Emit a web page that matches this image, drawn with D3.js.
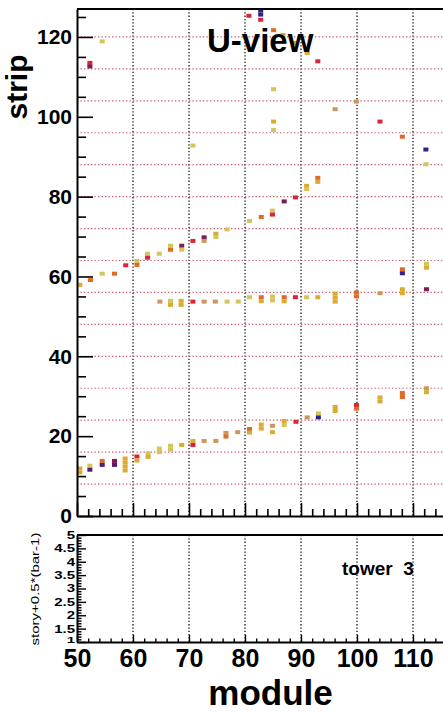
<!DOCTYPE html>
<html>
<head>
<meta charset="utf-8">
<script src="https://cdn.jsdelivr.net/npm/d3@7/dist/d3.min.js"></script>
<style>
    body { margin: 0; background: #ffffff; }
</style>
</head>
<body>
<div id="chart"></div>
<script>
let font = "'Liberation Sans', Arial, Helvetica, sans-serif"

// filled bins of the 2D histogram
// module = bin centre on x, strip = bin centre on y, level = colour level
let binModule = [
    52.3, 52.3, 54.5, 70.7, 80.7, 82.8, 82.8, 82.8, 85.1, 86.8, 88.9, 91.1, 93.0, 85.1, 85.1, 85.1,
    96.1, 99.9, 104.1, 108.1, 112.3, 112.3,
    // upper rising band
    50.5, 52.4, 54.5, 56.7, 58.7, 60.7, 60.7, 62.6, 62.6, 64.7, 66.7, 66.7, 68.7, 68.7, 70.7, 72.7,
    72.7, 74.8, 74.8, 76.8, 80.8, 82.9, 84.9, 84.9, 87.0, 89.0, 91.0, 91.0, 93.0, 93.0,
    // flat band
    64.8, 66.7, 66.7, 68.6, 68.6, 70.7, 72.7, 74.7, 76.8, 78.8, 80.8, 82.9, 82.9, 84.9, 84.9, 87.0,
    87.0, 89.0, 91.0, 93.0, 96.1, 96.1, 96.1, 99.9, 99.9, 104.1, 108.1, 108.1, 108.1, 108.1, 112.4,
    112.4, 112.4,
    // lower band
    50.5, 50.5, 52.3, 52.3, 54.5, 54.5, 56.7, 56.7, 58.6, 58.6, 58.6, 58.6, 60.7, 60.7, 62.7, 62.7,
    64.7, 64.7, 66.7, 66.7, 68.7, 70.7, 70.7, 72.7, 74.8, 76.6, 76.6, 78.7, 80.8, 80.8, 82.9, 82.9,
    84.9, 84.9, 87.0, 87.0, 89.1, 91.1, 93.1, 93.1, 96.1, 96.1, 99.9, 99.9, 104.1, 104.1, 108.1,
    108.1, 112.4, 112.4
]
let binStrip = [
    113.5, 112.6, 118.9, 92.8, 125.3, 126.6, 125.6, 124.3, 121.7, 120.5, 118.5, 116.0, 113.9, 106.9, 98.8, 96.7,
    101.9, 103.8, 98.8, 95.0, 91.8, 88.1,
    57.9, 59.1, 60.7, 60.7, 62.8, 63.9, 62.9, 65.7, 64.7, 65.7, 67.7, 66.7, 67.7, 66.7, 68.9, 69.8,
    68.9, 70.7, 69.9, 71.8, 73.9, 74.9, 76.5, 75.5, 78.8, 79.8, 82.7, 81.9, 84.7, 83.7,
    53.7, 53.9, 52.9, 53.9, 52.9, 53.7, 53.7, 53.7, 53.7, 53.7, 54.8, 54.8, 53.8, 55.0, 54.0, 54.8,
    53.8, 54.8, 54.8, 54.8, 55.7, 54.7, 53.7, 56.0, 55.0, 55.8, 56.8, 55.8, 61.8, 60.8, 63.2,
    62.2, 56.8,
    11.9, 10.9, 12.6, 11.6, 13.8, 12.8, 13.8, 12.8, 14.4, 13.4, 12.4, 11.4, 14.9, 13.9, 15.7, 14.8,
    16.9, 16.0, 17.6, 16.6, 17.8, 18.8, 17.8, 18.8, 18.8, 20.8, 19.9, 21.0, 21.8, 20.9, 22.9, 21.9,
    22.6, 21.0, 23.8, 22.8, 23.6, 24.7, 25.7, 24.7, 27.3, 26.3, 27.8, 26.9, 29.7, 28.7, 30.8,
    29.8, 32.0, 31.0
]
let binLevel = [
    4, 5, 0, 0, 4, 6, 6, 4, 3, 1, 1, 1, 4, 0, 1, 0,
    2, 2, 4, 3, 6, 0,
    1, 3, 0, 3, 4, 0, 3, 0, 4, 0, 0, 3, 5, 0, 4, 5,
    2, 1, 0, 0, 0, 3, 0, 4, 5, 4, 1, 0, 3, 1,
    2, 0, 1, 1, 1, 4, 2, 2, 0, 0, 0, 3, 1, 0, 0, 3,
    1, 4, 0, 1, 1, 1, 1, 3, 3, 2, 1, 1, 3, 6, 0,
    1, 5,
    1, 1, 0, 7, 3, 7, 5, 7, 1, 1, 1, 1, 4, 1, 0, 1,
    0, 0, 0, 0, 1, 1, 4, 2, 2, 2, 3, 2, 3, 1, 1, 1,
    2, 1, 1, 0, 4, 2, 0, 6, 1, 1, 4, 3, 1, 1, 3,
    3, 2, 1
]

// colour levels: khaki, golden, tan, orange, red, maroon, blue, purple
let levelColors = ["#d4c45c", "#dcaa2e", "#cf955e", "#e06a28", "#dc2438", "#7e1c55", "#2c2585", "#561c72"]

let moduleTicks = [50, 60, 70, 80, 90, 100, 110]
let moduleMinor = [52, 54, 56, 58, 62, 64, 66, 68, 72, 74, 76, 78, 82, 84, 86, 88, 92, 94, 96, 98, 102, 104, 106, 108, 112, 114]
let stripTicks = [0, 20, 40, 60, 80, 100, 120]
let stripMinor = [5, 10, 15, 25, 30, 35, 45, 50, 55, 65, 70, 75, 85, 90, 95, 105, 110, 115, 125]
let stripGrid = [8, 16, 24, 32, 40, 48, 56, 64, 72, 80, 88, 96, 104, 112, 120]
let storyTicks = [1, 1.5, 2, 2.5, 3, 3.5, 4, 4.5, 5]
let storyLabels = ["1", "1.5", "2", "2.5", "3", "3.5", "4", "4.5", "5"]

function zeichne() {
    let svg = d3.select("#chart").append("svg")
        .attr("width", 443)
        .attr("height", 713)
        .style("background", "#ffffff")

    var x = d3.scaleLinear().domain([50, 116]).range([77, 446.6])
    var yTop = d3.scaleLinear().domain([0, 127]).range([516, 9])
    var yBot = d3.scaleLinear().domain([1, 5]).range([642, 535])

    // ---------- top pad ----------
    let top = svg.append("g")

    // vertical grid (black dots)
    top.selectAll(".vgrid").data(moduleTicks.slice(1)).enter().append("line")
        .attr("x1", d => x(d)).attr("x2", d => x(d))
        .attr("y1", yTop(127)).attr("y2", yTop(0))
        .attr("stroke", "#111").attr("stroke-width", 1.3).attr("stroke-dasharray", "1.3,2")

    // horizontal grid (red dots)
    top.selectAll(".hgrid").data(stripGrid).enter().append("line")
        .attr("x1", x(50)).attr("x2", 443)
        .attr("y1", d => yTop(d)).attr("y2", d => yTop(d))
        .attr("stroke", "#cc5666").attr("stroke-width", 1.2).attr("stroke-dasharray", "1.3,2.2")

    let farben = d3.scaleOrdinal().domain(d3.range(levelColors.length)).range(levelColors)

    let bins = binModule.map((m, i) => ({ m: m, s: binStrip[i], l: binLevel[i] }))
    top.selectAll(".bin").data(bins).enter().append("rect")
        .attr("class", "bin")
        .attr("x", d => x(d.m - 0.45))
        .attr("width", d => x(d.m + 0.45) - x(d.m - 0.45))
        .attr("y", d => yTop(d.s + 0.5))
        .attr("height", d => yTop(d.s - 0.5) - yTop(d.s + 0.5))
        .style("fill", d => farben(d.l))

    // frame top
    top.append("line").attr("x1", x(50)).attr("x2", 443).attr("y1", yTop(127)).attr("y2", yTop(127))
        .attr("stroke", "#000").attr("stroke-width", 2)

    // x axis (no labels on the top pad)
    top.append("g").attr("transform", "translate(0," + yTop(0) + ")")
        .call(d3.axisBottom(x).tickValues(moduleTicks).tickSizeInner(-13).tickSizeOuter(0).tickFormat(""))
    top.append("g").attr("transform", "translate(0," + yTop(0) + ")")
        .call(d3.axisBottom(x).tickValues(moduleMinor).tickSizeInner(-7).tickSizeOuter(0).tickFormat(""))
        .select(".domain").remove()

    // y axis
    let yAx = top.append("g").attr("transform", "translate(" + x(50) + ",0)")
        .call(d3.axisLeft(yTop).tickValues(stripTicks).tickSizeInner(-16).tickSizeOuter(0).tickPadding(5))
    yAx.selectAll("text").attr("font-family", font).attr("font-size", "21px").attr("font-weight", "bold").attr("fill", "#000")
    top.append("g").attr("transform", "translate(" + x(50) + ",0)")
        .call(d3.axisLeft(yTop).tickValues(stripMinor).tickSizeInner(-9).tickSizeOuter(0).tickFormat(""))
        .select(".domain").remove()

    top.selectAll(".domain").attr("stroke-width", 2)
    top.selectAll(".tick line").attr("stroke-width", 1.6)

    top.append("text")
        .attr("transform", "translate(27,87) rotate(-90)")
        .attr("text-anchor", "middle")
        .attr("font-family", font).attr("font-size", "30px").attr("font-weight", "bold")
        .text("strip")

    top.append("text")
        .attr("x", 207).attr("y", 52)
        .attr("font-family", font).attr("font-size", "33px").attr("font-weight", "bold")
        .text("U-view")

    // ---------- bottom pad ----------
    let bot = svg.append("g")

    bot.selectAll(".vgrid2").data(moduleTicks.slice(1)).enter().append("line")
        .attr("x1", d => x(d)).attr("x2", d => x(d))
        .attr("y1", yBot(5)).attr("y2", yBot(1))
        .attr("stroke", "#111").attr("stroke-width", 1.3).attr("stroke-dasharray", "1.3,2")

    bot.append("line").attr("x1", x(50)).attr("x2", 443).attr("y1", yBot(5)).attr("y2", yBot(5))
        .attr("stroke", "#000").attr("stroke-width", 2)

    let xAx = bot.append("g").attr("transform", "translate(0," + yBot(1) + ")")
        .call(d3.axisBottom(x).tickValues(moduleTicks).tickSizeInner(-7).tickSizeOuter(0).tickPadding(7))
    xAx.selectAll("text").attr("font-family", font).attr("font-size", "25px").attr("font-weight", "bold").attr("fill", "#000")
    bot.append("g").attr("transform", "translate(0," + yBot(1) + ")")
        .call(d3.axisBottom(x).tickValues(moduleMinor).tickSizeInner(-3.5).tickSizeOuter(0).tickFormat(""))
        .select(".domain").remove()

    let yAx2 = bot.append("g").attr("transform", "translate(" + x(50) + ",0)")
        .call(d3.axisLeft(yBot).tickValues(storyTicks).tickSizeInner(-9).tickSizeOuter(0).tickPadding(2)
            .tickFormat((d, i) => storyLabels[i]))
    // labels are squeezed like in the original, the lowest one even more
    yAx2.selectAll("text").attr("font-family", font).attr("font-size", "15px").attr("font-weight", "bold")
        .attr("fill", "#000").attr("transform", d => d == 1 ? "translate(0,-2.5) scale(1,0.55)" : "scale(1,0.72)")
    // fine ticks every 0.1
    let storyFine = []
    for (let v = 1.1; v < 5; v += 0.1) {
        if (Math.abs(v * 2 - Math.round(v * 2)) > 0.01) storyFine.push(v)
    }
    bot.append("g").attr("transform", "translate(" + x(50) + ",0)")
        .call(d3.axisLeft(yBot).tickValues(storyFine).tickSizeInner(-4.5).tickSizeOuter(0).tickFormat(""))
        .select(".domain").remove()

    bot.selectAll(".domain").attr("stroke-width", 2)
    bot.selectAll(".tick line").attr("stroke-width", 1.4)

    bot.append("text")
        .attr("transform", "translate(39,589) rotate(-90) scale(1,0.72)")
        .attr("text-anchor", "middle")
        .attr("font-family", font).attr("font-size", "15px")
        .text("story+0.5*(bar-1)")

    bot.append("text")
        .attr("x", 342).attr("y", 575)
        .attr("font-family", font).attr("font-size", "19px").attr("font-weight", "bold")
        .style("white-space", "pre")
        .text("tower  3")

    bot.append("text")
        .attr("x", 270.5).attr("y", 704.5)
        .attr("text-anchor", "middle")
        .attr("font-family", font).attr("font-size", "35px").attr("font-weight", "bold")
        .text("module")
}

zeichne()
</script>
</body>
</html>
